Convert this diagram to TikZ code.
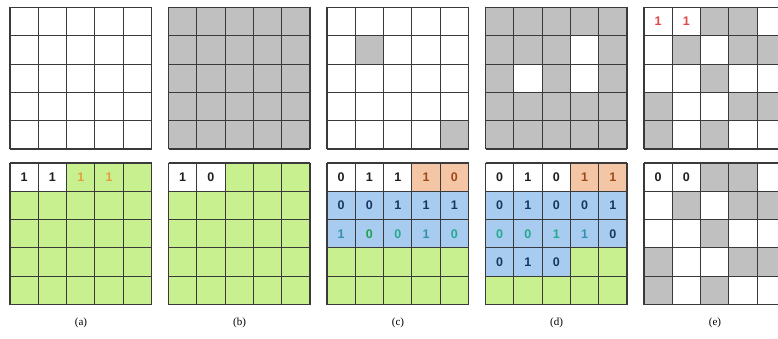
\documentclass[tikz,border=0pt]{standalone}
\usepackage{fontspec}
\setmainfont{Liberation Serif}
\newfontfamily\digitfont{Liberation Sans}
\definecolor{linec}{HTML}{3A3A3A}
\definecolor{cellgray}{HTML}{C0C0C0}
\definecolor{cellgreen}{HTML}{C8F08E}
\definecolor{cellblue}{HTML}{A8CCF0}
\definecolor{cellpeach}{HTML}{F5C6A5}
\definecolor{txtdark}{HTML}{1E1E1E}
\definecolor{txtnavy}{HTML}{17365D}
\definecolor{txtbrown}{HTML}{9C4A1A}
\definecolor{txtorange}{HTML}{E0A040}
\definecolor{txtred}{HTML}{E04848}
\definecolor{txttealblue}{HTML}{3590B0}
\definecolor{txtgreen}{HTML}{20A050}
\definecolor{txtteal}{HTML}{25A890}
\tikzset{
  gridline/.style={draw=linec, line width=1.1pt},
  graycell/.style={fill=cellgray},
  greencell/.style={fill=cellgreen},
  bluecell/.style={fill=cellblue},
  peachcell/.style={fill=cellpeach},
  digit/.style={font=\digitfont\bfseries\fontsize{12.5}{12.5}\selectfont, inner sep=0pt},
  caption/.style={font=\fontsize{11}{11}\selectfont, inner sep=0pt}
}
\newcommand\gridlinesfive{\foreach \i in {0,...,5}{\draw[gridline] (\i,0)--(\i,5) (0,\i)--(5,\i);}}
\newcommand\dig[5]{\node[digit,text=#4] (#1) at ({#2+0.5},{#3+0.5}) {#5};}
\begin{document}
\begin{tikzpicture}
\useasboundingbox (0,0) rectangle (778pt,-339pt);
\clip (0,0) rectangle (778pt,-339pt);
\fill[white] (0,0) rectangle (778pt,-339pt);
% ---------- top row ----------
% (a) top: all white
\begin{scope}[shift={(10pt,-7.5pt)}, x=28.3pt, y=-28.3pt]
  \gridlinesfive
\end{scope}
% (b) top: all gray
\begin{scope}[shift={(168.5pt,-7.5pt)}, x=28.3pt, y=-28.3pt]
  \fill[graycell] (0,0) rectangle (5,5);
  \gridlinesfive
\end{scope}
% (c) top
\begin{scope}[shift={(327pt,-7.5pt)}, x=28.3pt, y=-28.3pt]
  \fill[graycell] (1,1) rectangle ++(1,1);
  \fill[graycell] (4,4) rectangle ++(1,1);
  \gridlinesfive
\end{scope}
% (d) top
\begin{scope}[shift={(485.5pt,-7.5pt)}, x=28.3pt, y=-28.3pt]
  \fill[graycell] (0,0) rectangle (5,5);
  \fill[white] (3,1) rectangle ++(1,1);
  \fill[white] (1,2) rectangle ++(1,1);
  \fill[white] (3,2) rectangle ++(1,1);
  \gridlinesfive
\end{scope}
% (e) top
\begin{scope}[shift={(644pt,-7.5pt)}, x=28.3pt, y=-28.3pt]
  \foreach \k/\r in {2/0,3/0,1/1,3/1,4/1,2/2,0/3,3/3,4/3,0/4,2/4}
    {\fill[graycell] (\k,\r) rectangle ++(1,1);}
  \gridlinesfive
  \dig{et00}{0}{0}{txtred}{1}
  \dig{et01}{1}{0}{txtred}{1}
\end{scope}
% ---------- bottom row ----------
% (a) bottom
\begin{scope}[shift={(10pt,-163pt)}, x=28.3pt, y=-28.3pt]
  \fill[greencell] (0,0) rectangle (5,5);
  \fill[white] (0,0) rectangle (2,1);
  \gridlinesfive
  \dig{ab0}{0}{0}{txtdark}{1}
  \dig{ab1}{1}{0}{txtdark}{1}
  \dig{ab2}{2}{0}{txtorange}{1}
  \dig{ab3}{3}{0}{txtorange}{1}
\end{scope}
% (b) bottom
\begin{scope}[shift={(168.5pt,-163pt)}, x=28.3pt, y=-28.3pt]
  \fill[greencell] (0,0) rectangle (5,5);
  \fill[white] (0,0) rectangle (2,1);
  \gridlinesfive
  \dig{bb0}{0}{0}{txtdark}{1}
  \dig{bb1}{1}{0}{txtdark}{0}
\end{scope}
% (c) bottom
\begin{scope}[shift={(327pt,-163pt)}, x=28.3pt, y=-28.3pt]
  \fill[greencell] (0,0) rectangle (5,5);
  \fill[white] (0,0) rectangle (3,1);
  \fill[peachcell] (3,0) rectangle (5,1);
  \fill[bluecell] (0,1) rectangle (5,3);
  \gridlinesfive
  \dig{cb00}{0}{0}{txtdark}{0}
  \dig{cb01}{1}{0}{txtdark}{1}
  \dig{cb02}{2}{0}{txtdark}{1}
  \dig{cb03}{3}{0}{txtbrown}{1}
  \dig{cb04}{4}{0}{txtbrown}{0}
  \dig{cb10}{0}{1}{txtnavy}{0}
  \dig{cb11}{1}{1}{txtnavy}{0}
  \dig{cb12}{2}{1}{txtnavy}{1}
  \dig{cb13}{3}{1}{txtnavy}{1}
  \dig{cb14}{4}{1}{txtnavy}{1}
  \dig{cb20}{0}{2}{txttealblue}{1}
  \dig{cb21}{1}{2}{txtgreen}{0}
  \dig{cb22}{2}{2}{txtteal}{0}
  \dig{cb23}{3}{2}{txttealblue}{1}
  \dig{cb24}{4}{2}{txtteal}{0}
\end{scope}
% (d) bottom
\begin{scope}[shift={(485.5pt,-163pt)}, x=28.3pt, y=-28.3pt]
  \fill[greencell] (0,0) rectangle (5,5);
  \fill[white] (0,0) rectangle (3,1);
  \fill[peachcell] (3,0) rectangle (5,1);
  \fill[bluecell] (0,1) rectangle (5,3);
  \fill[bluecell] (0,3) rectangle (3,4);
  \gridlinesfive
  \dig{db00}{0}{0}{txtdark}{0}
  \dig{db01}{1}{0}{txtdark}{1}
  \dig{db02}{2}{0}{txtdark}{0}
  \dig{db03}{3}{0}{txtbrown}{1}
  \dig{db04}{4}{0}{txtbrown}{1}
  \dig{db10}{0}{1}{txtnavy}{0}
  \dig{db11}{1}{1}{txtnavy}{1}
  \dig{db12}{2}{1}{txtnavy}{0}
  \dig{db13}{3}{1}{txtnavy}{0}
  \dig{db14}{4}{1}{txtnavy}{1}
  \dig{db20}{0}{2}{txtteal}{0}
  \dig{db21}{1}{2}{txtteal}{0}
  \dig{db22}{2}{2}{txtteal}{1}
  \dig{db23}{3}{2}{txttealblue}{1}
  \dig{db24}{4}{2}{txtnavy}{0}
  \dig{db30}{0}{3}{txtnavy}{0}
  \dig{db31}{1}{3}{txtnavy}{1}
  \dig{db32}{2}{3}{txtnavy}{0}
\end{scope}
% (e) bottom
\begin{scope}[shift={(644pt,-163pt)}, x=28.3pt, y=-28.3pt]
  \foreach \k/\r in {2/0,3/0,1/1,3/1,4/1,2/2,0/3,3/3,4/3,0/4,2/4}
    {\fill[graycell] (\k,\r) rectangle ++(1,1);}
  \gridlinesfive
  \dig{eb00}{0}{0}{txtdark}{0}
  \dig{eb01}{1}{0}{txtdark}{0}
\end{scope}
% ---------- captions ----------
\node[caption] (capa) at (81pt,-323pt) {(a)};
\node[caption] (capb) at (239.5pt,-323pt) {(b)};
\node[caption] (capc) at (398pt,-323pt) {(c)};
\node[caption] (capd) at (556.5pt,-323pt) {(d)};
\node[caption] (cape) at (715pt,-323pt) {(e)};
\end{tikzpicture}
\end{document}
